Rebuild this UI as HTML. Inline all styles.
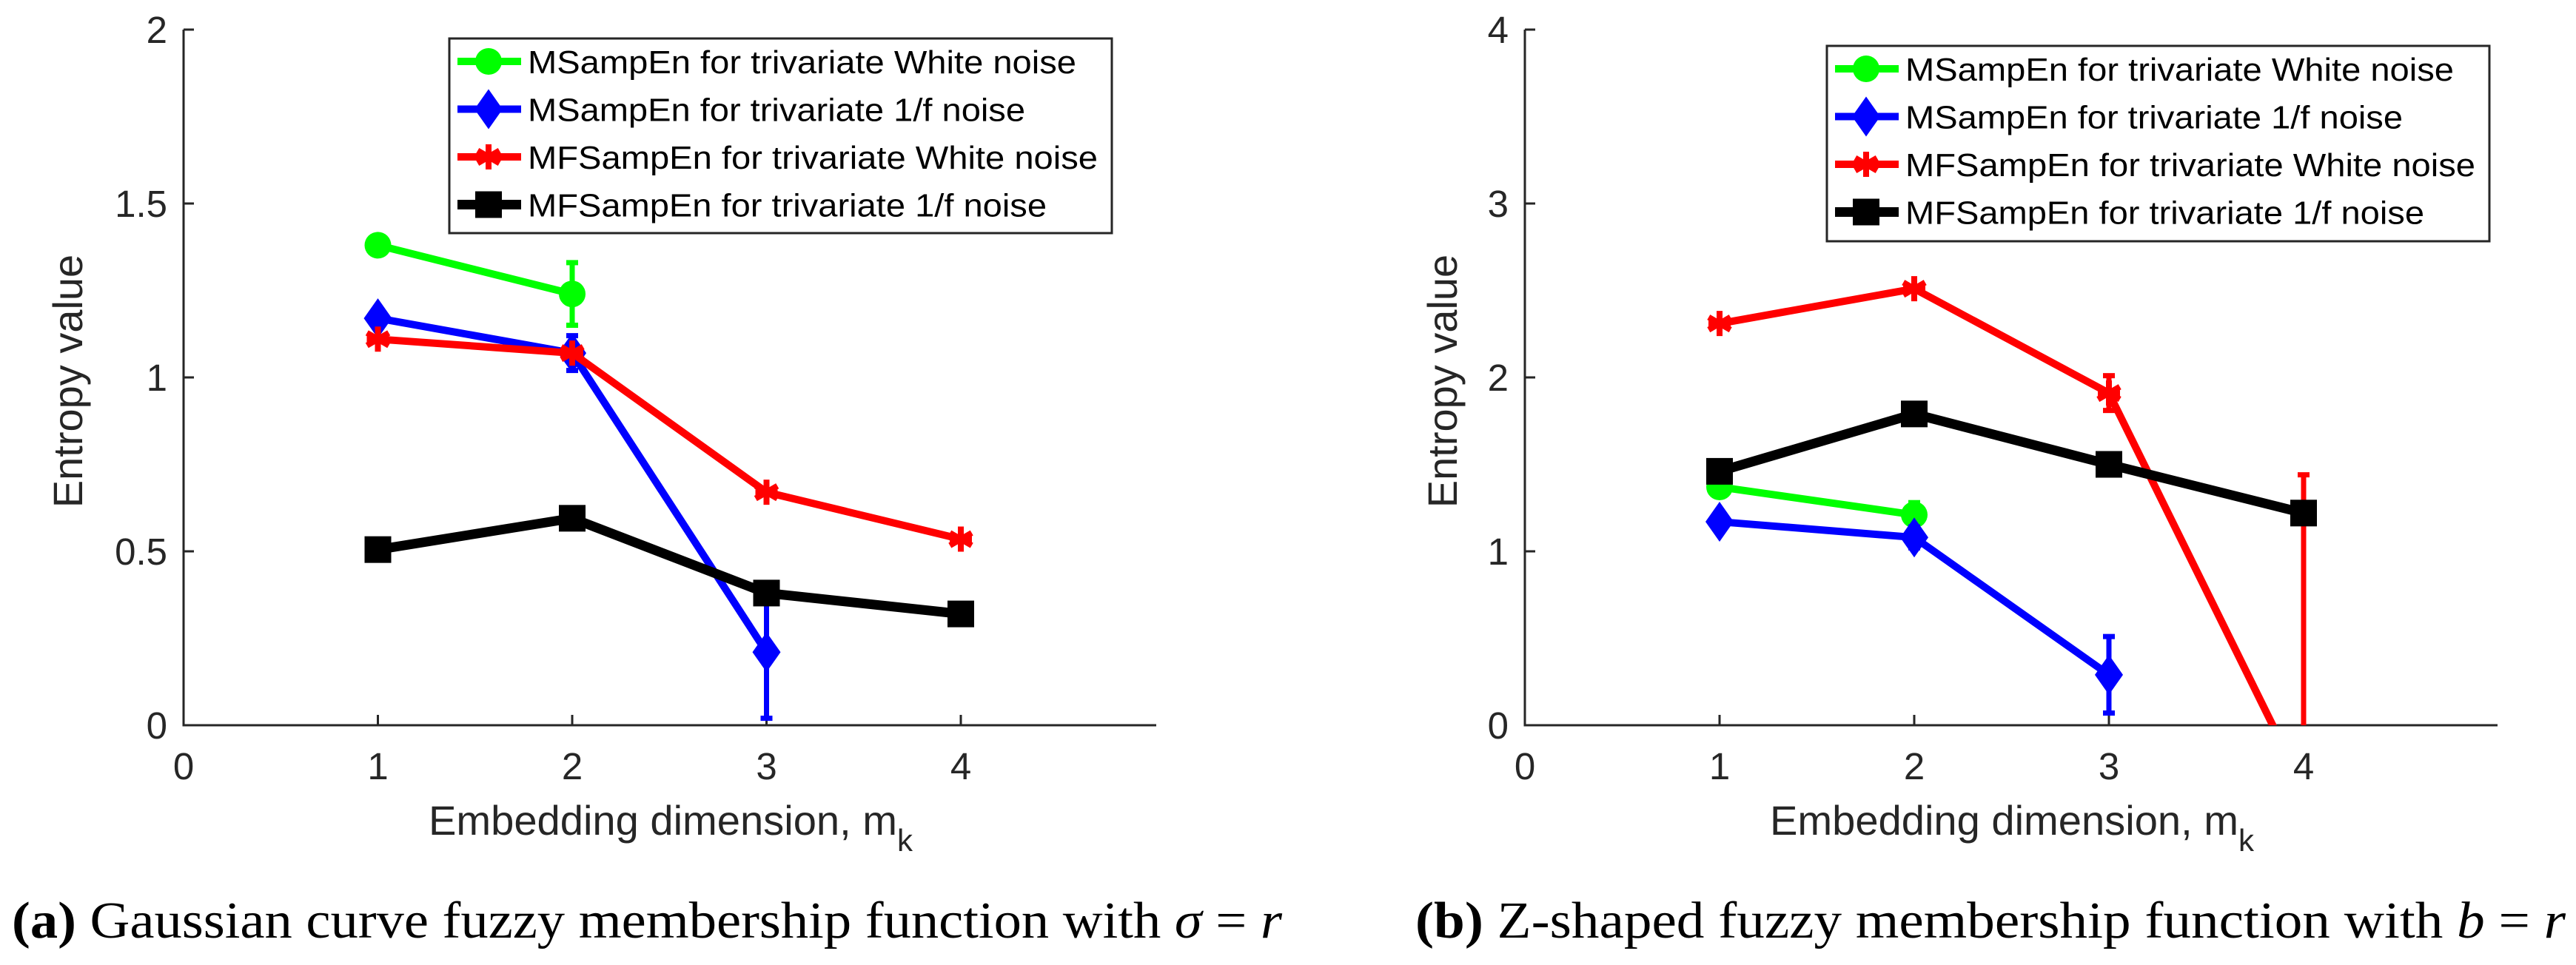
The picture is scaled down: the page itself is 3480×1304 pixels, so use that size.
<!DOCTYPE html>
<html><head><meta charset="utf-8">
<style>
html,body{margin:0;padding:0;background:#fff;width:3480px;height:1304px;overflow:hidden;}
svg{display:block;}
text{font-family:"Liberation Sans",sans-serif;}
.cap{font-family:"Liberation Serif",serif;}
</style></head>
<body>
<svg id="fig" width="3480" height="1304" viewBox="0 0 3480 1304" xmlns="http://www.w3.org/2000/svg">
<text class="cap" x="16" y="1267" font-size="70" textLength="1716" lengthAdjust="spacingAndGlyphs"><tspan font-weight="bold">(a)</tspan> Gaussian curve fuzzy membership function with <tspan font-style="italic">σ</tspan> = <tspan font-style="italic">r</tspan></text>
<text class="cap" x="1912" y="1267" font-size="70" textLength="1554" lengthAdjust="spacingAndGlyphs"><tspan font-weight="bold">(b)</tspan> Z-shaped fuzzy membership function with <tspan font-style="italic">b</tspan> = <tspan font-style="italic">r</tspan></text>
</svg>
<script>
// ---- data ----
const xCats = [1, 2, 3, 4];
const xTicks = [0, 1, 2, 3, 4];
const yTicksA = [0, 0.5, 1, 1.5, 2];
const yTickLabelsA = ["0", "0.5", "1", "1.5", "2"];
const yTicksB = [0, 1, 2, 3, 4];
const yTickLabelsB = ["0", "1", "2", "3", "4"];
const legendLabels = ["MSampEn for trivariate White noise", "MSampEn for trivariate 1/f noise", "MFSampEn for trivariate White noise", "MFSampEn for trivariate 1/f noise"];
// panel a
const aGreen = [1.38, 1.24];
const aGreenErr = [0.0, 0.09];
const aBlue = [1.17, 1.07, 0.21];
const aBlueErr = [0.0, 0.05, 0.19];
const aRed = [1.11, 1.07, 0.67, 0.535];
const aRedErr = [0.0, 0.0, 0.0, 0.0];
const aBlack = [0.505, 0.595, 0.38, 0.32];
const aBlackErr = [0, 0, 0, 0];
// panel b
const bGreen = [1.37, 1.21];
const bGreenErr = [0.0, 0.07];
const bBlue = [1.17, 1.08, 0.29];
const bBlueErr = [0.0, 0.06, 0.22];
const bRed = [2.31, 2.51, 1.91, -0.36];
const bRedErr = [0.0, 0.0, 0.1, 1.8];
const bBlack = [1.46, 1.79, 1.50, 1.22];
const bBlackErr = [0, 0, 0, 0.06];

const NS = "http://www.w3.org/2000/svg";
const svg = document.getElementById('fig');
function mk(tag, attrs, parent) {
  const e = document.createElementNS(NS, tag);
  for (const k in attrs) e.setAttribute(k, attrs[k]);
  (parent || svg).appendChild(e);
  return e;
}
const AX = '#262626';
const styles = [
  {color: '#00ff00', w: 10, marker: 'circle', name: 'white-msampen'},
  {color: '#0000ff', w: 10, marker: 'diamond', name: '1f-msampen'},
  {color: '#ff0000', w: 10, marker: 'asterisk', name: 'white-mfsampen'},
  {color: '#000000', w: 13, marker: 'square', name: '1f-mfsampen'}
];
function marker(g, type, cx, cy, color) {
  let m;
  if (type === 'circle') m = mk('circle', {cx: cx, cy: cy, r: 18, fill: color}, g);
  else if (type === 'diamond') m = mk('polygon', {points: `${cx},${cy-27} ${cx+19},${cy} ${cx},${cy+27} ${cx-19},${cy}`, fill: color}, g);
  else if (type === 'square') m = mk('rect', {x: cx-18, y: cy-18, width: 36, height: 36, fill: color}, g);
  else {
    m = mk('g', {stroke: color, 'stroke-width': 8}, g);
    for (const a of [0, 60, 120]) {
      const r = a * Math.PI / 180, l = 17;
      mk('line', {x1: cx - l*Math.sin(r), y1: cy - l*Math.cos(r), x2: cx + l*Math.sin(r), y2: cy + l*Math.cos(r)}, m);
    }
    mk('line', {x1: cx-15, y1: cy, x2: cx+15, y2: cy}, m);
  }
  return m;
}
function panel(id, x0, unit, right, yTop, yBot, yMax, yTicks, yLabels, series, errs, legBox, ylabX) {
  const g = mk('g', {});
  
  
  const xs = v => x0 + v * unit;
  const ys = v => yBot - v / yMax * (yBot - yTop);
  const clipId = 'clip' + id;
  const defs = mk('defs', {}, g);
  const cp = mk('clipPath', {id: clipId}, defs);
  mk('rect', {x: x0, y: yTop - 30, width: right - x0, height: yBot - yTop + 30}, cp);
  const ax = mk('path', {d: `M${x0},${yTop} L${x0},${yBot} L${right},${yBot}`, fill: 'none', stroke: AX, 'stroke-width': 3}, g);
  
  
  yTicks.forEach((t, i) => {
    mk('line', {x1: x0, y1: ys(t), x2: x0 + 14, y2: ys(t), stroke: AX, 'stroke-width': 3}, g);
    const tx = mk('text', {x: x0 - 22, y: ys(t) + 18, 'font-size': 51, 'text-anchor': 'end', fill: AX}, g);
    tx.textContent = yLabels[i];
    
    
  });
  xTicks.forEach(t => {
    if (t > 0) mk('line', {x1: xs(t), y1: yBot, x2: xs(t), y2: yBot - 14, stroke: AX, 'stroke-width': 3}, g);
    const tx = mk('text', {x: xs(t), y: 1053, 'font-size': 51, 'text-anchor': 'middle', fill: AX}, g);
    tx.textContent = String(t);
    
    
  });
  const xl = mk('text', {x: x0 + 331, y: 1128, 'font-size': 56, fill: AX}, g);
  
  
  const t1 = mk('tspan', {textLength: 633, lengthAdjust: 'spacingAndGlyphs'}, xl);
  t1.textContent = 'Embedding dimension, m';
  const t2 = mk('tspan', {dy: 22, 'font-size': 42}, xl);
  t2.textContent = 'k';
  const yl = mk('text', {x: 0, y: 0, 'font-size': 56, 'text-anchor': 'middle', fill: AX, transform: `translate(${ylabX},515) rotate(-90)`}, g);
  yl.textContent = 'Entropy value';
  
  
  const dg = mk('g', {'clip-path': `url(#${clipId})`}, g);
  series.forEach((vals, si) => {
    const st = styles[si];
    const sg = mk('g', {}, dg);
    
    
    const pts = vals.map((v, i) => `${xs(xCats[i])},${ys(v)}`).join(' ');
    mk('polyline', {points: pts, fill: 'none', stroke: st.color, 'stroke-width': st.w, 'stroke-linejoin': 'round'}, sg);
    vals.forEach((v, i) => {
      const e = errs[si][i];
      if (e > 0) {
        const eb = mk('g', {stroke: st.color, 'stroke-width': 7}, sg);
        
        
        const cx = xs(xCats[i]);
        mk('line', {x1: cx, y1: ys(v + e), x2: cx, y2: ys(v - e)}, eb);
        mk('line', {x1: cx - 8, y1: ys(v + e), x2: cx + 8, y2: ys(v + e)}, eb);
        mk('line', {x1: cx - 8, y1: ys(v - e), x2: cx + 8, y2: ys(v - e)}, eb);
      }
      const m = marker(sg, st.marker, xs(xCats[i]), ys(v), st.color);
      
      
    });
  });
  const lg = mk('g', {}, g);
  
  
  mk('rect', {x: legBox[0], y: legBox[1], width: legBox[2], height: legBox[3], fill: '#fff', stroke: AX, 'stroke-width': 3}, lg);
  const widths = [741, 672, 770, 701];
  legendLabels.forEach((lab, i) => {
    const st = styles[i];
    const cy = legBox[1] + 31 + i * 64.5;
    const lx = legBox[0] + 11;
    const le = mk('g', {}, lg);
    
    
    mk('line', {x1: lx, y1: cy, x2: lx + 86, y2: cy, stroke: st.color, 'stroke-width': st.w}, le);
    marker(le, st.marker, lx + 42, cy, st.color);
    const tx = mk('text', {x: legBox[0] + 106, y: cy + 16, 'font-size': 44, fill: '#000', textLength: widths[i], lengthAdjust: 'spacingAndGlyphs'}, le);
    tx.textContent = lab;
  });
}
panel('a', 248, 262.5, 1562, 40, 980, 2, yTicksA, yTickLabelsA,
  [aGreen, aBlue, aRed, aBlack], [aGreenErr, aBlueErr, aRedErr, aBlackErr],
  [607, 52, 895, 263], 111);
panel('b', 2060, 263, 3374, 40, 980, 4, yTicksB, yTickLabelsB,
  [bGreen, bBlue, bRed, bBlack], [bGreenErr, bBlueErr, bRedErr, bBlackErr],
  [2468, 62, 895, 264], 1968);
</script>
</body></html>
